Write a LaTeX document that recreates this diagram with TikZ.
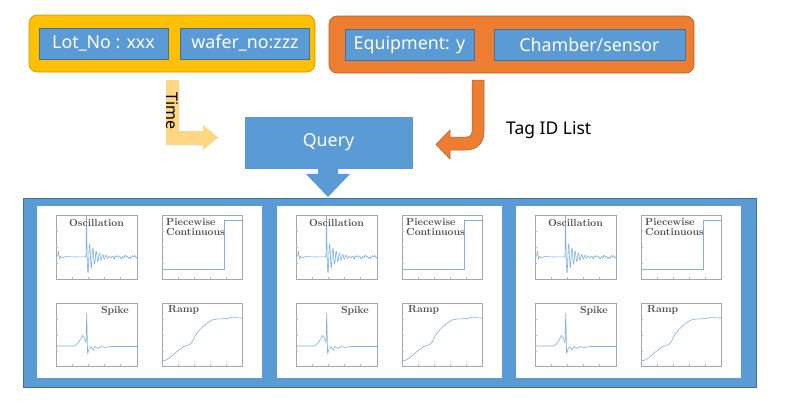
\documentclass[tikz,border=0pt]{standalone}
\usepackage{fontspec}
\newfontfamily\uifont{Noto Sans}
\definecolor{bblue}{HTML}{5B9BD5}
\definecolor{bblueD}{HTML}{41719C}
\definecolor{gold}{HTML}{FFC000}
\definecolor{goldD}{HTML}{C99A06}
\definecolor{orng}{HTML}{ED7D31}
\definecolor{orngD}{HTML}{B85D22}
\definecolor{paleY}{HTML}{FDD783}
\definecolor{curve}{HTML}{7FB2DE}
\definecolor{ttl}{HTML}{505050}
\tikzset{
  x=1pt,y=-1pt,
  tagbox/.style={draw=bblueD,line width=0.8pt,fill=bblue,text=white,inner sep=0pt,
     minimum height=31pt,font=\uifont\fontsize{17.8}{20}\selectfont},
  plotframe/.style={draw=gray!70,line width=0.4pt},
  tick/.style={draw=gray!55,line width=0.3pt},
  sig/.style={draw=curve,line width=0.6pt,line join=round},
  ptitle/.style={font=\bfseries\fontsize{10.3}{11.5}\selectfont,text=ttl,inner sep=0pt},
}
\begin{document}
\begin{tikzpicture}
\useasboundingbox (0,0) rectangle (787,408);
\fill[white] (0,0) rectangle (787,408);

% top groups
\draw[fill=gold,draw=goldD,line width=0.6pt,rounded corners=8pt] (29,15) rectangle (315,72);
\draw[fill=orng,draw=orngD,line width=0.6pt,rounded corners=8pt] (329,16) rectangle (694,73);
\node[tagbox,minimum width=129pt] (lot) at (103.5,43.5) {Lot\_No : xxx};
\node[tagbox,minimum width=129pt] (wafer) at (245,43.5) {wafer\_no:zzz};
\node[tagbox,minimum width=129pt] (equip) at (409.5,45) {Equipment: y};
\node[tagbox,minimum width=191pt] (chamber) at (589.5,45) {Chamber/sensor};

% query
\node[fill=bblue,draw=bblue,inner sep=0pt,minimum width=167pt,minimum height=51pt,
      text=white,font=\uifont\fontsize{17.8}{20}\selectfont] (query) at (328.5,142.5) {Query};

% time arrow
\fill[paleY] (166,80) -- (179,80) -- (179,131) -- (203,131) -- (203,125) -- (218,137.5)
   -- (203,150) -- (203,145) -- (166,145) -- cycle;
\node[rotate=-90,font=\uifont\fontsize{16}{18}\selectfont,inner sep=0pt] (time) at (172.5,111) {Time};

% tag id arrow
\draw[fill=orng,draw=orngD,line width=0.5pt,line join=round]
  (472,80) -- (484,80) -- (484,132) .. controls (484,143) and (477,150) .. (466,150)
  -- (450,150) -- (450,159) -- (436,144.5) -- (450,130) -- (450,137) -- (466,137)
  .. controls (470,137) and (472,135) .. (472,131) -- cycle;
\node[font=\uifont\fontsize{17.5}{20}\selectfont,inner sep=0pt,anchor=west] (taglist) at (506,130) {Tag ID List};

% down arrow
\fill[bblue] (318,167) -- (338,167) -- (338,174) -- (350,174) -- (328,197) -- (306,174) -- (318,174) -- cycle;

% big frame
\draw[fill=bblue,draw=bblueD,line width=0.6pt] (23,198) rectangle (756,387);

\foreach \px/\i in {37/a,277/b,516/c}{
\begin{scope}[shift={(\px,206)}]
  \fill[white] (0,0) rectangle (225,172);
  % plot 1 oscillation
  \begin{scope}[shift={(19,9)}]
    \draw[plotframe] (0,0) rectangle (81,64);
    \foreach \t in {16,32,48,64}{\draw[tick] (\t,64) -- (\t,62);}
    \foreach \t in {16,32,48}{\draw[tick] (0,\t) -- (2,\t);}
    \draw[sig] (0,42) -- (1.5,41) -- (2.5,36) -- (3.5,44) -- (4.5,41.5) -- (6,42.5) -- (10,41.5)
      -- (18,42) -- (26,41.8) -- (30,42) -- (30.5,1) -- (31.2,44)
      plot[domain=31.2:81,samples=220] (\x,{42+18*exp(-(\x-31.2)/8)*sin(110*(\x-31.2))
        + (\x>58)*1.8*sin(95*\x)*sin(51*\x)});
    \node[ptitle,anchor=north] (osc\i) at (40.5,4) {Oscillation};
  \end{scope}
  % plot 2 piecewise
  \begin{scope}[shift={(125,9)}]
    \draw[plotframe] (0,0) rectangle (80,64);
    \foreach \t in {16,32,48,64}{\draw[tick] (\t,64) -- (\t,62);}
    \foreach \t in {16,32,48}{\draw[tick] (0,\t) -- (2,\t);}
    \draw[sig] (0,54) -- (62,54) -- (62,5) -- (80,5);
    \node[ptitle,anchor=north west,align=left] (pw\i) at (4,3) {Piecewise\\[-1pt]Continuous};
  \end{scope}
  % plot 3 spike
  \begin{scope}[shift={(19,97)}]
    \draw[plotframe] (0,0) rectangle (81,63);
    \foreach \t in {16,32,48,64}{\draw[tick] (\t,63) -- (\t,61);}
    \foreach \t in {16,32,48}{\draw[tick] (0,\t) -- (2,\t);}
    \draw[sig] (0,43) -- (18,43) -- (21,41.5) -- (24,37) -- (26.5,32.5) -- (28.5,35) -- (30,40)
      -- (30.7,10) -- (31.6,51) -- (33,46) -- (35,44) -- (37,47) -- (39,43.5) -- (42,45.5)
      -- (45,43.5) -- (49,44.5) -- (55,43.5) -- (81,43.5);
    \node[ptitle,anchor=north east] (spk\i) at (73,3) {Spike};
  \end{scope}
  % plot 4 ramp
  \begin{scope}[shift={(125,97)}]
    \draw[plotframe] (0,0) rectangle (80,63);
    \foreach \t in {16,32,48,64}{\draw[tick] (\t,63) -- (\t,61);}
    \foreach \t in {16,32,48}{\draw[tick] (0,\t) -- (2,\t);}
    \draw[sig] plot[smooth,tension=0.5] coordinates {(0,57.5) (3,57.5) (8,54.5) (15,48.5) (22,43.5)
      (28,41.5) (30.5,38.5) (33,33) (38,26.5) (44,21) (50,17) (56,16) (65,15.5) (71,14)
      (75,14.8) (80,15)};
    \node[ptitle,anchor=north west] (rmp\i) at (6,2) {Ramp};
  \end{scope}
\end{scope}
}
\end{tikzpicture}
\end{document}
